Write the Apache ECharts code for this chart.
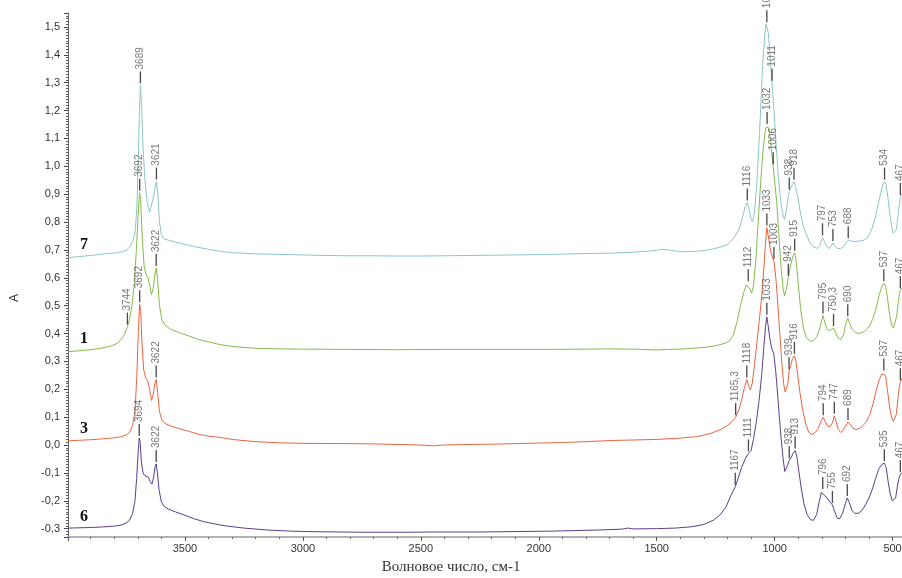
<!DOCTYPE html>
<html>
<head>
<meta charset="utf-8">
<script src="https://cdn.jsdelivr.net/npm/echarts@6/dist/echarts.min.js"></script>
<style>
  html, body { margin: 0; padding: 0; background: #fff; }
  #chart { width: 902px; height: 578px; }
</style>
</head>
<body>
<div id="chart"></div>
<script>
// ИК-спектры образцов 7, 1, 3, 6: [волновое число, A]
const trace7 = [
  [3996,0.672],[3950,0.676],[3900,0.680],[3850,0.685],[3800,0.689],[3770,0.693],[3750,0.698],[3735,0.71],[3722,0.73],[3712,0.76],
  [3704,0.85],[3698,1.02],[3693,1.20],[3689,1.29],[3685,1.24],[3678,1.07],[3670,0.95],[3660,0.87],[3650,0.835],[3642,0.84],
  [3633,0.89],[3626,0.93],[3621,0.945],[3615,0.90],[3608,0.80],[3600,0.755],[3590,0.74],[3570,0.735],[3540,0.728],[3500,0.72],
  [3450,0.71],[3400,0.702],[3350,0.695],[3300,0.69],[3200,0.686],[3100,0.684],[3000,0.682],[2900,0.680],[2800,0.679],[2700,0.679],
  [2600,0.678],[2500,0.678],[2400,0.679],[2300,0.680],[2200,0.681],[2100,0.682],[2000,0.683],[1900,0.685],[1800,0.687],[1700,0.688],
  [1600,0.692],[1540,0.695],[1500,0.699],[1475,0.702],[1450,0.700],[1420,0.696],[1380,0.693],[1330,0.695],[1280,0.70],[1240,0.708],
  [1200,0.718],[1175,0.74],[1150,0.775],[1135,0.82],[1125,0.855],[1116,0.87],[1108,0.845],[1100,0.81],[1094,0.80],[1086,0.83],
  [1076,0.93],[1064,1.12],[1051,1.36],[1042,1.47],[1036,1.51],[1033,1.51],[1027,1.48],[1020,1.40],[1011,1.30],[1002,1.19],
  [993,1.07],[985,0.97],[975,0.88],[966,0.83],[958,0.81],[950,0.84],[944,0.885],[938,0.91],[930,0.925],[924,0.935],
  [918,0.945],[911,0.925],[902,0.89],[892,0.84],[880,0.79],[865,0.755],[850,0.725],[835,0.71],[820,0.706],[810,0.712],
  [803,0.73],[797,0.745],[789,0.73],[778,0.712],[768,0.705],[760,0.715],[753,0.725],[745,0.715],[735,0.705],[722,0.705],
  [708,0.712],[697,0.725],[688,0.735],[678,0.732],[660,0.73],[640,0.732],[622,0.735],[605,0.745],[590,0.77],[575,0.81],
  [562,0.86],[550,0.905],[541,0.935],[534,0.945],[528,0.935],[520,0.89],[512,0.83],[504,0.785],[497,0.76],[491,0.755],
  [485,0.77],[478,0.81],[472,0.86],[467,0.89],[460,0.90]
];
const trace1 = [
  [3996,0.335],[3950,0.338],[3900,0.342],[3850,0.348],[3810,0.356],[3785,0.366],[3765,0.385],[3752,0.405],[3744,0.425],[3735,0.45],
  [3725,0.50],[3715,0.58],[3706,0.70],[3699,0.82],[3694,0.89],[3692,0.905],[3688,0.88],[3681,0.74],[3673,0.64],[3665,0.61],
  [3657,0.60],[3650,0.575],[3642,0.54],[3635,0.56],[3628,0.61],[3622,0.635],[3616,0.59],[3608,0.50],[3598,0.45],[3585,0.43],
  [3560,0.415],[3520,0.402],[3480,0.39],[3440,0.378],[3400,0.37],[3350,0.36],[3300,0.354],[3250,0.35],[3200,0.347],[3100,0.345],
  [3000,0.344],[2800,0.343],[2600,0.342],[2400,0.343],[2200,0.343],[2000,0.343],[1800,0.344],[1700,0.345],[1600,0.344],[1500,0.341],
  [1450,0.343],[1400,0.344],[1350,0.347],[1300,0.35],[1250,0.356],[1210,0.365],[1190,0.375],[1175,0.395],[1160,0.44],[1145,0.50],
  [1130,0.55],[1120,0.575],[1112,0.58],[1105,0.56],[1098,0.545],[1090,0.57],[1080,0.66],[1070,0.80],[1060,0.93],[1050,1.05],
  [1041,1.12],[1036,1.14],[1032,1.145],[1027,1.14],[1021,1.12],[1014,1.06],[1006,1.00],[998,0.93],[991,0.87],[982,0.75],
  [972,0.63],[964,0.56],[958,0.535],[950,0.56],[942,0.60],[935,0.635],[928,0.66],[921,0.68],[915,0.69],[908,0.655],
  [900,0.58],[890,0.49],[878,0.42],[865,0.385],[850,0.372],[835,0.375],[820,0.39],[808,0.42],[800,0.45],[795,0.465],
  [789,0.445],[780,0.42],[770,0.41],[760,0.415],[750.3,0.42],[742,0.405],[732,0.385],[720,0.378],[708,0.395],[698,0.435],
  [690,0.455],[683,0.44],[672,0.415],[660,0.405],[645,0.40],[630,0.403],[615,0.41],[600,0.425],[585,0.45],[570,0.49],
  [556,0.54],[545,0.57],[537,0.58],[530,0.57],[522,0.53],[513,0.47],[504,0.43],[496,0.42],[490,0.425],[483,0.46],
  [476,0.51],[470,0.545],[467,0.555],[460,0.565]
];
const trace3 = [
  [3996,0.015],[3950,0.017],[3900,0.019],[3850,0.022],[3800,0.026],[3770,0.03],[3750,0.036],[3735,0.045],[3722,0.07],[3712,0.12],
  [3704,0.25],[3698,0.40],[3694,0.48],[3692,0.505],[3688,0.48],[3682,0.36],[3675,0.27],[3666,0.24],[3658,0.23],[3650,0.20],
  [3642,0.16],[3635,0.18],[3628,0.22],[3622,0.235],[3616,0.19],[3608,0.12],[3598,0.09],[3585,0.078],[3560,0.068],[3520,0.058],
  [3480,0.048],[3440,0.038],[3400,0.032],[3350,0.027],[3300,0.02],[3200,0.012],[3100,0.008],[3000,0.006],[2800,0.005],[2700,0.004],
  [2600,0.002],[2500,0.0],[2450,-0.003],[2400,0.0],[2300,0.002],[2200,0.003],[2100,0.005],[2000,0.007],[1900,0.009],[1800,0.012],
  [1700,0.016],[1600,0.018],[1500,0.02],[1400,0.025],[1330,0.03],[1270,0.042],[1230,0.055],[1200,0.07],[1180,0.085],[1165.3,0.1],
  [1150,0.13],[1138,0.17],[1127,0.21],[1118,0.235],[1110,0.21],[1103,0.198],[1095,0.22],[1085,0.29],[1076,0.36],[1066,0.44],
  [1055,0.53],[1046,0.63],[1039,0.72],[1033,0.78],[1027,0.75],[1018,0.70],[1010,0.675],[1003,0.66],[995,0.60],[986,0.50],
  [978,0.40],[970,0.30],[962,0.22],[955,0.19],[950,0.185],[944,0.22],[939,0.265],[932,0.285],[924,0.31],[916,0.32],
  [910,0.30],[902,0.25],[893,0.19],[882,0.13],[868,0.075],[855,0.045],[842,0.038],[828,0.045],[815,0.06],[804,0.085],
  [794,0.10],[786,0.085],[776,0.068],[766,0.065],[755,0.08],[747,0.105],[740,0.085],[730,0.055],[720,0.045],[708,0.055],
  [698,0.07],[689,0.083],[680,0.075],[668,0.06],[655,0.055],[640,0.06],[625,0.07],[610,0.085],[596,0.11],[582,0.15],
  [568,0.20],[556,0.235],[545,0.255],[537,0.26],[530,0.25],[522,0.20],[513,0.14],[505,0.10],[497,0.085],[490,0.083],
  [484,0.11],[477,0.17],[471,0.21],[467,0.225],[460,0.24]
];
const trace6 = [
  [3996,-0.298],[3950,-0.297],[3900,-0.296],[3850,-0.294],[3800,-0.291],[3770,-0.287],[3750,-0.28],[3735,-0.27],[3722,-0.245],[3712,-0.20],
  [3705,-0.12],[3699,-0.03],[3694,0.025],[3690,0.01],[3685,-0.06],[3678,-0.10],[3670,-0.11],[3662,-0.11],[3655,-0.115],[3648,-0.13],
  [3640,-0.14],[3633,-0.115],[3627,-0.08],[3622,-0.068],[3617,-0.10],[3610,-0.16],[3600,-0.205],[3588,-0.22],[3570,-0.23],[3540,-0.24],
  [3500,-0.252],[3460,-0.265],[3420,-0.275],[3380,-0.282],[3330,-0.29],[3250,-0.298],[3150,-0.305],[3050,-0.309],[2950,-0.311],[2850,-0.312],
  [2750,-0.313],[2650,-0.313],[2550,-0.313],[2450,-0.312],[2350,-0.312],[2250,-0.312],[2150,-0.311],[2050,-0.31],[1950,-0.309],[1850,-0.307],
  [1750,-0.305],[1650,-0.302],[1620,-0.298],[1600,-0.301],[1500,-0.30],[1420,-0.298],[1350,-0.293],[1300,-0.285],[1260,-0.27],[1230,-0.25],
  [1205,-0.22],[1185,-0.18],[1167,-0.15],[1155,-0.12],[1140,-0.08],[1125,-0.05],[1111,-0.03],[1100,-0.02],[1090,0.02],[1078,0.08],
  [1066,0.16],[1055,0.25],[1045,0.36],[1038,0.43],[1033,0.46],[1028,0.43],[1020,0.38],[1012,0.345],[1004,0.33],[996,0.27],
  [988,0.19],[980,0.10],[972,0.02],[964,-0.05],[957,-0.095],[950,-0.095],[944,-0.07],[938,-0.055],[930,-0.045],[922,-0.03],
  [913,-0.02],[906,-0.04],[898,-0.09],[888,-0.15],[876,-0.21],[862,-0.25],[848,-0.268],[835,-0.27],[822,-0.25],[810,-0.2],
  [802,-0.17],[796,-0.165],[788,-0.18],[778,-0.19],[765,-0.205],[755,-0.215],[745,-0.24],[735,-0.262],[725,-0.265],[712,-0.245],
  [700,-0.21],[692,-0.19],[684,-0.205],[672,-0.235],[660,-0.245],[645,-0.245],[630,-0.235],[615,-0.215],[600,-0.19],[586,-0.16],
  [572,-0.12],[558,-0.085],[546,-0.07],[535,-0.065],[527,-0.08],[519,-0.13],[510,-0.175],[501,-0.2],[493,-0.205],[487,-0.19],
  [480,-0.15],[473,-0.12],[467,-0.105],[460,-0.1]
];

// подписанные пики
const peaks7 = [3689, 3621, 1116, 1033, 1011, 938, 918, 797, 753, 688, 534, 467];
const peaks1 = [3744, 3692, 3622, 1112, 1032, 1006, 942, 915, 795, 750.3, 690, 537, 467];
const peaks3 = [3692, 3622, 1165.3, 1118, 1033, 1003, 939, 916, 794, 747, 689, 537, 467];
const peaks6 = [3694, 3622, 1167, 1111, 1033, 938, 913, 796, 755, 692, 535, 467];

const traceNames = ['7', '1', '3', '6'];
const traceColors = ['#8cc6c6', '#84bb4c', '#ea6440', '#5a3f8c'];

const chart = echarts.init(document.getElementById('chart'));

function peakPoints(trace, peaks) {
  const out = [];
  peaks.forEach(function (wn) {
    const p = trace.find(function (d) { return d[0] === wn; });
    if (p) out.push([p[0], p[1], String(wn).replace('.', ',')]);
  });
  return out;
}

const traces = [trace7, trace1, trace3, trace6];
const peakSets = [peaks7, peaks1, peaks3, peaks6];

const series = [];
traces.forEach(function (t, i) {
  series.push({
    name: traceNames[i],
    type: 'line',
    data: t,
    showSymbol: false,
    lineStyle: { width: 1, color: traceColors[i] },
    itemStyle: { color: traceColors[i] },
    z: 2
  });
});
traces.forEach(function (t, i) {
  series.push({
    type: 'scatter',
    data: peakPoints(t, peakSets[i]),
    symbol: 'rect',
    symbolSize: [1.3, 12],
    symbolOffset: [0, -8],
    itemStyle: { color: '#1a1a1a' },
    label: {
      show: true,
      position: 'top',
      rotate: 90,
      align: 'left',
      verticalAlign: 'middle',
      distance: 2,
      color: '#555',
      fontSize: 10,
      fontFamily: 'Liberation Sans, Arial, sans-serif',
      formatter: function (p) { return p.data[2]; }
    },
    z: 5,
    silent: true
  });
});

const option = {
  animation: false,
  backgroundColor: '#fff',
  grid: { left: 68, right: 0, top: 13, bottom: 41, containLabel: false, outerBoundsMode: 'none' },
  xAxis: {
    type: 'value',
    inverse: true,
    min: 460,
    max: 3996,
    splitNumber: 7,
    name: 'Волновое число, см-1',
    nameLocation: 'middle',
    nameGap: 23,
    nameTextStyle: {
      fontFamily: 'Liberation Serif, Times New Roman, serif',
      fontSize: 15,
      color: '#333',
      padding: [0, 68, 0, 0]
    },
    axisLine: { onZero: false, lineStyle: { color: '#999', width: 1.5 } },
    axisTick: { length: 4, lineStyle: { color: '#555' } },
    minorTick: { show: true, splitNumber: 5, length: 2, lineStyle: { color: '#666' } },
    splitLine: { show: false },
    axisLabel: {
      showMinLabel: false,
      showMaxLabel: false,
      margin: 6,
      color: '#333',
      fontSize: 11,
      fontFamily: 'Liberation Sans, Arial, sans-serif',
      formatter: function (v) { return String(v); }
    }
  },
  yAxis: {
    type: 'value',
    min: -0.33,
    max: 1.55,
    splitNumber: 18,
    name: 'A',
    nameLocation: 'middle',
    nameGap: 47,
    nameRotate: 90,
    nameTextStyle: {
      fontFamily: 'Liberation Sans, Arial, sans-serif',
      fontSize: 12,
      color: '#333',
      padding: [0, 46, 0, 0]
    },
    axisLine: { show: true, onZero: false, lineStyle: { color: '#666', width: 1 } },
    axisTick: { show: true, length: 4, lineStyle: { color: '#444' } },
    minorTick: { show: true, splitNumber: 10, length: 2, lineStyle: { color: '#555' } },
    splitLine: { show: false },
    axisLabel: {
      showMinLabel: false,
      showMaxLabel: false,
      margin: 8,
      color: '#333',
      fontSize: 11,
      fontFamily: 'Liberation Sans, Arial, sans-serif',
      formatter: function (v) { return v.toFixed(1).replace('.', ','); }
    }
  },
  graphic: [
    { type: 'text', left: 80, top: 237, style: { text: traceNames[0], font: 'bold 16px "Liberation Serif"', fill: '#111' } },
    { type: 'text', left: 80, top: 331, style: { text: traceNames[1], font: 'bold 16px "Liberation Serif"', fill: '#111' } },
    { type: 'text', left: 80, top: 421, style: { text: traceNames[2], font: 'bold 16px "Liberation Serif"', fill: '#111' } },
    { type: 'text', left: 80, top: 509, style: { text: traceNames[3], font: 'bold 16px "Liberation Serif"', fill: '#111' } }
  ],
  series: series
};

chart.setOption(option);
</script>
</body>
</html>
